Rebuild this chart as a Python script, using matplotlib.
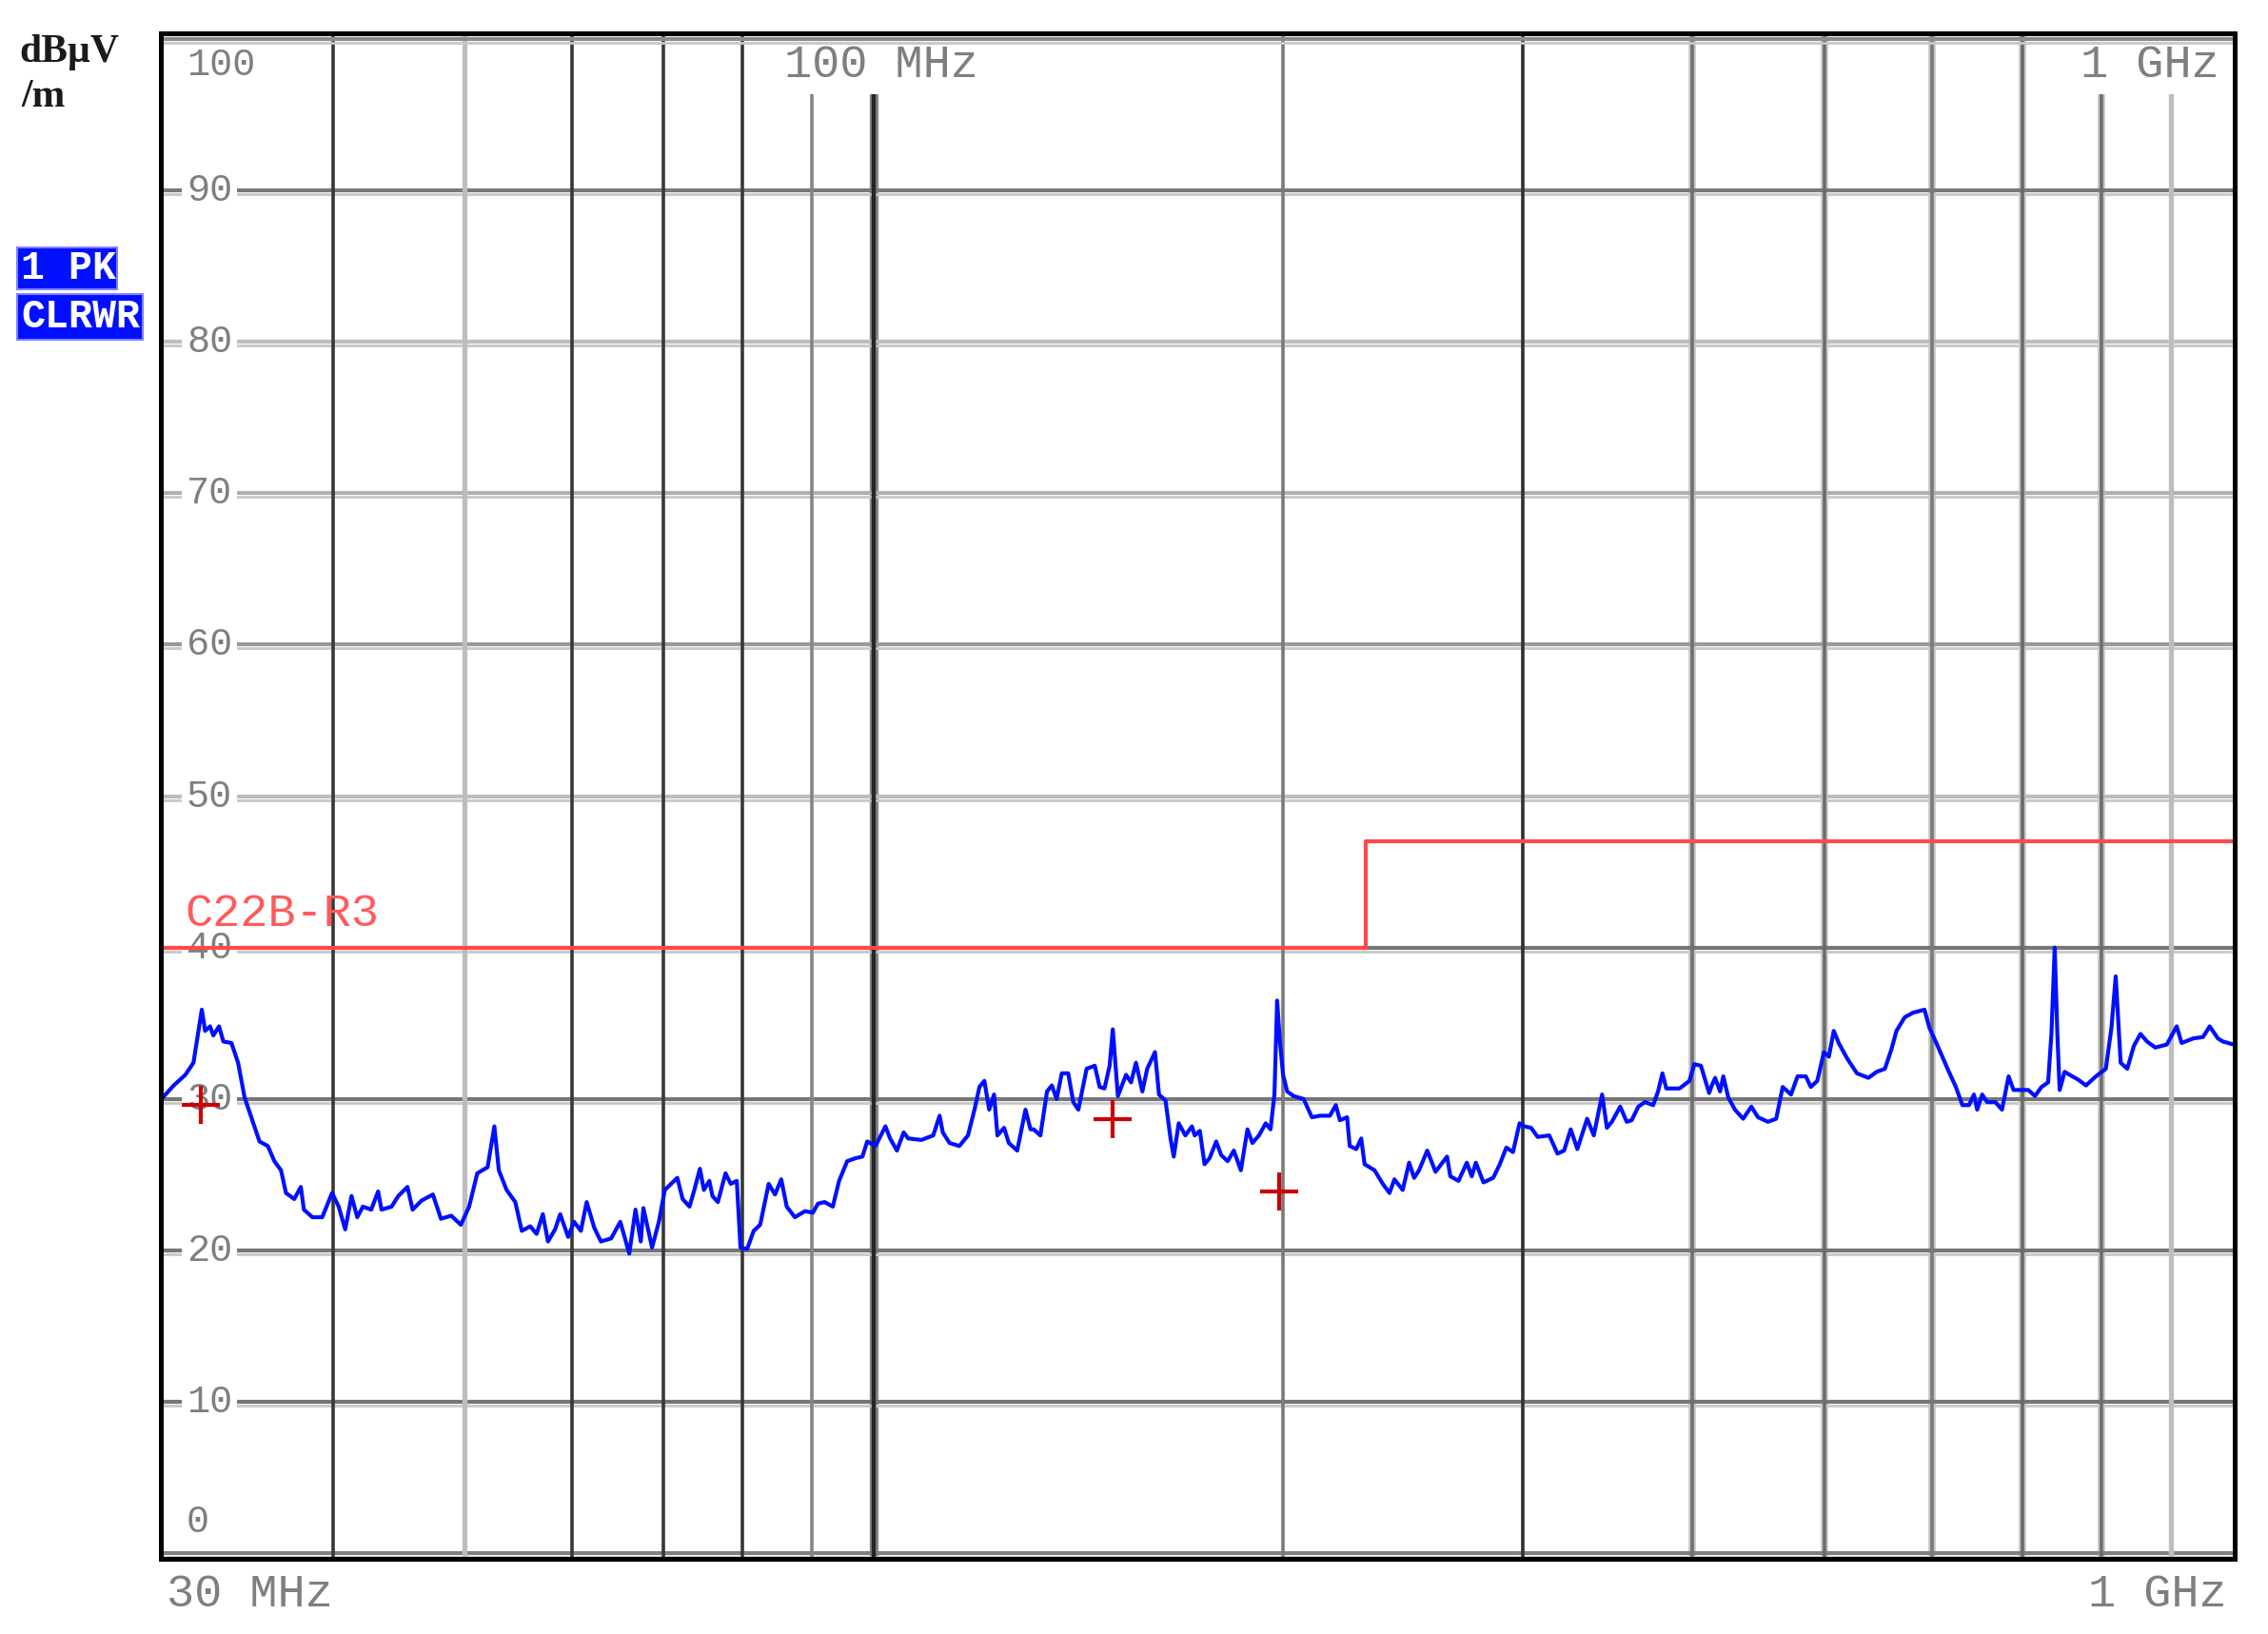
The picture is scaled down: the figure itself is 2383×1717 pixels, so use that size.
import matplotlib
matplotlib.use("Agg")
import matplotlib.pyplot as plt
import matplotlib.transforms as mtransforms
from matplotlib.patches import Rectangle

# peak trace (MHz, dBuV/m)
freq_mhz = [
    30.0, 30.56, 31.17, 31.6, 31.87, 32.05, 32.23, 32.5, 32.68, 33.0, 33.24, 33.7,
    34.08, 34.46, 34.85, 35.34, 35.84, 36.24, 36.65, 36.96, 37.48, 37.9, 38.1, 38.65,
    39.3, 39.96, 40.41, 40.86, 41.3, 41.7, 42.1, 42.7, 43.2, 43.45, 44.2, 44.7, 45.4,
    45.8, 46.5, 47.4, 48.05, 48.9, 49.7, 50.4, 51.1, 52.0, 52.6, 53.0, 53.7, 54.5,
    55.1, 55.9, 56.5, 57.1, 57.6, 58.3, 58.8, 59.6, 60.2, 60.9, 61.5, 62.3, 63.0,
    64.1, 65.1, 66.1, 66.8, 67.4, 67.7, 68.7, 69.5, 70.2,
    71.7, 72.35, 73.2, 73.8, 74.5, 75.0, 75.7, 76.1, 76.8, 77.8, 78.5, 79.3, 79.8,
    80.7, 81.6, 82.5, 83.7, 84.6, 85.5, 86.3, 87.5, 89.0, 90.2, 91.0, 92.0, 93.3,
    94.3, 95.6, 97.0, 98.1, 98.9, 100.3, 102.0, 102.8, 104.0, 105.2, 106.0, 108.4,
    110.6, 111.8, 112.4, 113.7, 115.6, 117.3, 118.6, 119.6, 120.6, 121.6, 122.6,
    123.3, 124.7, 125.7, 127.5, 129.3, 130.4, 131.1, 132.6, 134.1, 135.2, 136.3,
    137.5, 139.0, 140.2, 141.4, 143.4, 145.4, 146.6, 147.8, 149.1, 149.9, 151.2,
    153.3, 154.6, 155.9, 157.6, 158.9, 161.0, 162.1, 163.9, 165.3, 166.2, 167.6,
    169.5, 171.4,
    172.2, 173.7, 175.1, 176.6, 178.6, 180.1, 182.1, 184.0, 186.2, 188.3, 189.9,
    192.0, 194.2, 195.8, 197.1, 198.0, 198.9, 200.0, 201.4, 203.6, 207.1, 210.0,
    212.9, 216.5, 218.7, 220.2, 222.9, 223.9, 226.4, 228.3, 229.6, 233.5, 236.8,
    239.5, 241.5, 244.9, 247.6, 249.7, 251.8, 255.3, 258.9, 264.0, 265.5, 269.2,
    273.0, 275.3, 277.2, 280.8, 285.5, 288.7, 291.9, 295.2, 298.5, 301.0, 304.4,
    307.8, 313.9, 318.3, 321.9, 325.5, 329.2, 334.7, 338.5, 343.3, 346.1, 349.0,
    354.0, 357.9, 360.9, 365.0, 369.1, 374.3, 377.4, 380.2, 382.7, 391.4, 398.0,
    401.3, 405.8, 411.5,
    413.4, 415.7, 419.2, 421.5, 425.1, 429.9, 435.9, 442.0, 447.0, 454.6, 461.0,
    466.1, 472.7, 478.0, 484.7, 488.8, 494.2, 499.8, 504.0, 508.2, 512.5, 519.7,
    528.5, 538.9, 546.5, 554.2, 560.4, 565.1, 573.1, 581.1, 592.6, 597.6, 606.0,
    616.2, 624.9, 631.9, 639.0, 644.3, 647.9, 653.4, 658.9, 668.2, 675.7, 683.3,
    689.0, 694.8, 706.5, 714.5, 722.5, 730.6, 734.7, 738.8, 742.1, 745.0, 751.3,
    757.6, 768.2, 779.0, 792.2, 805.6, 813.3, 819.2, 826.1, 835.4, 844.7, 854.2,
    863.8, 875.9, 893.2, 908.3, 915.9, 934.0, 949.8, 960.5, 974.0, 982.2, 1000.0,
]
level_dbuv = [
    30.1, 30.9, 31.6, 32.4, 34.5, 35.9, 34.5, 34.8, 34.2, 34.8, 33.8, 33.7,
    32.4, 30.1, 28.8, 27.2, 26.9, 25.9, 25.3, 23.8, 23.4, 24.2, 22.7, 22.2,
    22.2, 23.8, 22.9, 21.4, 23.6, 22.2, 22.9, 22.7, 23.9, 22.7, 22.9, 23.6, 24.2,
    22.7, 23.3, 23.7, 22.1, 22.3, 21.7, 22.9, 25.1, 25.5, 28.2, 25.3, 24.0, 23.2,
    21.3, 21.6, 21.1, 22.4, 20.6, 21.4, 22.4, 20.9, 21.9, 21.3, 23.2, 21.5, 20.6,
    20.8, 21.9, 19.8, 22.7, 20.6, 22.8, 20.2, 21.9, 24.0,
    24.8, 23.4, 22.9, 24.0, 25.4, 24.0, 24.6, 23.6, 23.2, 25.1, 24.4, 24.6, 20.2,
    20.1, 21.3, 21.7, 24.4, 23.7, 24.7, 22.9, 22.2, 22.6, 22.5, 23.1, 23.2, 22.9,
    24.6, 25.9, 26.1, 26.2, 27.2, 26.9, 28.2, 27.4, 26.6, 27.8, 27.4, 27.3,
    27.6, 28.9, 27.8, 27.1, 26.9, 27.6, 29.3, 30.8, 31.2, 29.3, 30.3,
    27.6, 28.1, 27.1, 26.6, 29.3, 28.0, 28.0, 27.6, 30.5, 30.9, 30.0,
    31.7, 31.7, 29.8, 29.3, 32.0, 32.2, 30.8, 30.7, 32.2, 34.6, 30.2,
    31.6, 31.1, 32.4, 30.5, 32.0, 33.1, 30.3, 29.9, 27.4, 26.2, 28.4,
    27.6, 28.2,
    27.6, 27.9, 25.7, 26.1, 27.2, 26.3, 25.9, 26.6, 25.3, 28.0, 27.1,
    27.6, 28.4, 28.0, 30.3, 36.5, 33.9, 31.6, 30.5, 30.2, 30.0, 28.8,
    28.9, 28.9, 29.6, 28.6, 28.8, 26.9, 26.7, 27.4, 25.7, 25.3, 24.4,
    23.8, 24.7, 24.0, 25.8, 24.8, 25.3, 26.6, 25.2, 26.2, 24.9, 24.6,
    25.8, 24.9, 25.8, 24.5, 24.8, 25.7, 26.8, 26.5, 28.4, 28.2, 28.1,
    27.5, 27.6, 26.4, 26.6, 28.0, 26.7, 28.7, 27.6, 30.3, 28.1, 28.5,
    29.5, 28.5, 28.6, 29.5, 29.8, 29.6, 30.5, 31.7, 30.7, 30.7, 31.2,
    32.3, 32.2, 30.4,
    30.9, 31.4, 30.5, 31.5, 30.1, 29.3, 28.7, 29.5, 28.8, 28.5, 28.7,
    30.8, 30.3, 31.5, 31.5, 30.8, 31.2, 33.1, 32.8, 34.5, 33.7, 32.7,
    31.7, 31.4, 31.8, 32.0, 33.3, 34.5, 35.4, 35.7, 35.9, 34.7, 33.5,
    32.0, 30.8, 29.6, 29.6, 30.3, 29.3, 30.3, 29.8, 29.8, 29.3, 31.5,
    30.6, 30.6, 30.6, 30.2, 30.8, 31.1, 34.3, 40.0, 34.3, 30.6, 31.8,
    31.6, 31.3, 30.9, 31.5, 32.0, 34.7, 38.1, 32.4, 32.0, 33.5, 34.3,
    33.8, 33.4, 33.6, 34.8, 33.7, 34.0, 34.1, 34.8, 34.0, 33.8, 33.6,
]

# limit line
limit_name = "C22B-R3"
limit_freq = [30, 230, 230, 1000]
limit_level = [40, 40, 47, 47]

# red markers
marker_freq = [32.0, 149.9, 198.6]
marker_level = [29.6, 28.7, 23.9]

level_grid = [0, 10, 20, 30, 40, 50, 60, 70, 80, 90, 100]
level_labels = ["0", "10", "20", "30", "40", "50", "60", "70", "80", "90", "100"]
freq_grid = [40, 50, 60, 70, 80, 90, 100, 200, 300, 400, 500, 600, 700, 800, 900]

# look of the grid (screen grab of the receiver, lines are uneven)
hgrid_color = {0: "#808080", 10: "#767676", 20: "#767676", 30: "#767676",
               40: "#767676", 50: "#bdbdbd", 60: "#9a9a9a", 70: "#b0b0b0",
               80: "#bdbdbd", 90: "#7a7a7a", 100: "#8c8c8c"}
vgrid_style = {40: ("#383838", 2.6, None), 50: ("#bdbdbd", 3.8, None),
               60: ("#383838", 2.6, None), 70: ("#383838", 2.6, None),
               80: ("#383838", 2.6, None), 90: ("#858585", 2.6, None),
               100: ("#262626", 3.2, "#8a8a8a"), 200: ("#7a7a7a", 2.6, None),
               300: ("#303030", 2.6, None), 400: ("#707070", 2.6, "#c4c4c4"),
               500: ("#6a6a6a", 2.6, "#c4c4c4"), 600: ("#7a7a7a", 2.6, "#c4c4c4"),
               700: ("#6a6a6a", 2.6, "#c4c4c4"), 800: ("#6e6e6e", 2.6, "#c4c4c4"),
               900: ("#bdbdbd", 3.8, None)}

MONO = "Liberation Mono"
LABEL_GRAY = "#7f7f7f"

fig = plt.figure(figsize=(23.83, 17.17), dpi=100)
ax = fig.add_axes([0.0709, 0.0460, 0.9144, 0.9336])
ax.set_xscale("log")
ax.set_xlim(29.9, 1002)
ax.set_ylim(-0.35, 100.35)
ax.tick_params(which="both", length=0, labelbottom=False, labelleft=False)
ax.xaxis.set_major_locator(matplotlib.ticker.NullLocator())
ax.xaxis.set_minor_locator(matplotlib.ticker.NullLocator())
ax.yaxis.set_major_locator(matplotlib.ticker.NullLocator())

# horizontal grid: dark line with a light shadow under it
below = mtransforms.offset_copy(ax.transData, fig=fig, y=-4, units="dots")
shadow_tf = mtransforms.blended_transform_factory(ax.transAxes, below)
for lvl in level_grid:
    z = 2.5 if lvl == level_grid[-1] else 1   # top band stays over the header labels
    ax.axhline(lvl, color=hgrid_color[lvl], lw=3.0, zorder=z)
    ax.plot([0, 1], [lvl, lvl], transform=shadow_tf, color="#c8c8c8", lw=2.0, zorder=z - 0.1)

# vertical grid
for f in freq_grid:
    col, lw, under = vgrid_style[f]
    if under:
        ax.axvline(f, color=under, lw=lw * 2.1, zorder=0.8)
    ax.axvline(f, color=col, lw=lw, zorder=1)

# level labels inside the plot
ytf = ax.get_yaxis_transform()
lbl_box = dict(boxstyle="square,pad=0.12", fc="white", ec="none")
for lvl, txt in zip(level_grid, level_labels):
    if lvl == 100:
        dy = -20
    elif lvl == 0:
        dy = 24
    else:
        dy = 0
    ax.annotate(txt, xy=(0.0124, lvl), xycoords=ytf, xytext=(0, dy),
                textcoords="offset points", ha="left", va="center",
                fontsize=29, family=MONO, color=LABEL_GRAY, bbox=lbl_box, zorder=2)

# frequency labels
top_box = dict(boxstyle="square,pad=0.16", fc="white", ec="none")
ax.annotate("100 MHz", xy=(100, 100), xytext=(6, -20), textcoords="offset points",
            ha="center", va="center", fontsize=35, family=MONO, color=LABEL_GRAY,
            bbox=top_box, zorder=2)
ax.annotate("1 GHz", xy=(1000, 100), xytext=(-11, -20), textcoords="offset points",
            ha="right", va="center", fontsize=35, family=MONO, color=LABEL_GRAY,
            bbox=top_box, zorder=2)
ax.annotate("30 MHz", xy=(30, 0), xytext=(3, -31), textcoords="offset points",
            ha="left", va="center", fontsize=35, family=MONO, color=LABEL_GRAY,
            annotation_clip=False)
ax.annotate("1 GHz", xy=(1000, 0), xytext=(-5, -31), textcoords="offset points",
            ha="right", va="center", fontsize=35, family=MONO, color=LABEL_GRAY,
            annotation_clip=False)

# limit line and its name
ax.plot(limit_freq, limit_level, color="#ff4a4a", lw=3.0, zorder=3)
ax.annotate(limit_name, xy=(0.0115, limit_level[0]), xycoords=ytf, xytext=(0, 25),
            textcoords="offset points", ha="left", va="center", fontsize=35,
            family=MONO, color="#ff5a5a", zorder=3)

# trace and markers
ax.plot(freq_mhz, level_dbuv, color="#0010ff", lw=3.0, zorder=4)
ax.plot(marker_freq, marker_level, linestyle="none", marker="+", ms=29, mew=3,
        color="#cc0000", zorder=5)

for s in ax.spines.values():
    s.set_linewidth(3.6)
    s.set_color("black")
    s.set_zorder(6)

# unit and trace info at top left
fig.text(0.0085, 0.968, "dBµV", fontsize=30, family="Liberation Serif",
         fontweight="bold", color="#1a1a1a", ha="left", va="center")
fig.text(0.0092, 0.9406, "/m", fontsize=30, family="Liberation Serif",
         fontweight="bold", color="#1a1a1a", ha="left", va="center")

fig.patches.append(Rectangle((0.00755, 0.8229), 0.0441, 0.0256, transform=fig.transFigure,
                             fc="#0010ff", ec="#8080ff", lw=1.5))
fig.patches.append(Rectangle((0.00755, 0.7921), 0.0554, 0.02796, transform=fig.transFigure,
                             fc="#0010ff", ec="#8080ff", lw=1.5))
fig.text(0.0092, 0.8358, "1 PK", fontsize=30, family=MONO, fontweight="bold",
         color="white", ha="left", va="center")
fig.text(0.0092, 0.8061, "CLRWR", fontsize=30, family=MONO, fontweight="bold",
         color="white", ha="left", va="center")

fig.savefig("out.png", dpi=100, facecolor="white")
